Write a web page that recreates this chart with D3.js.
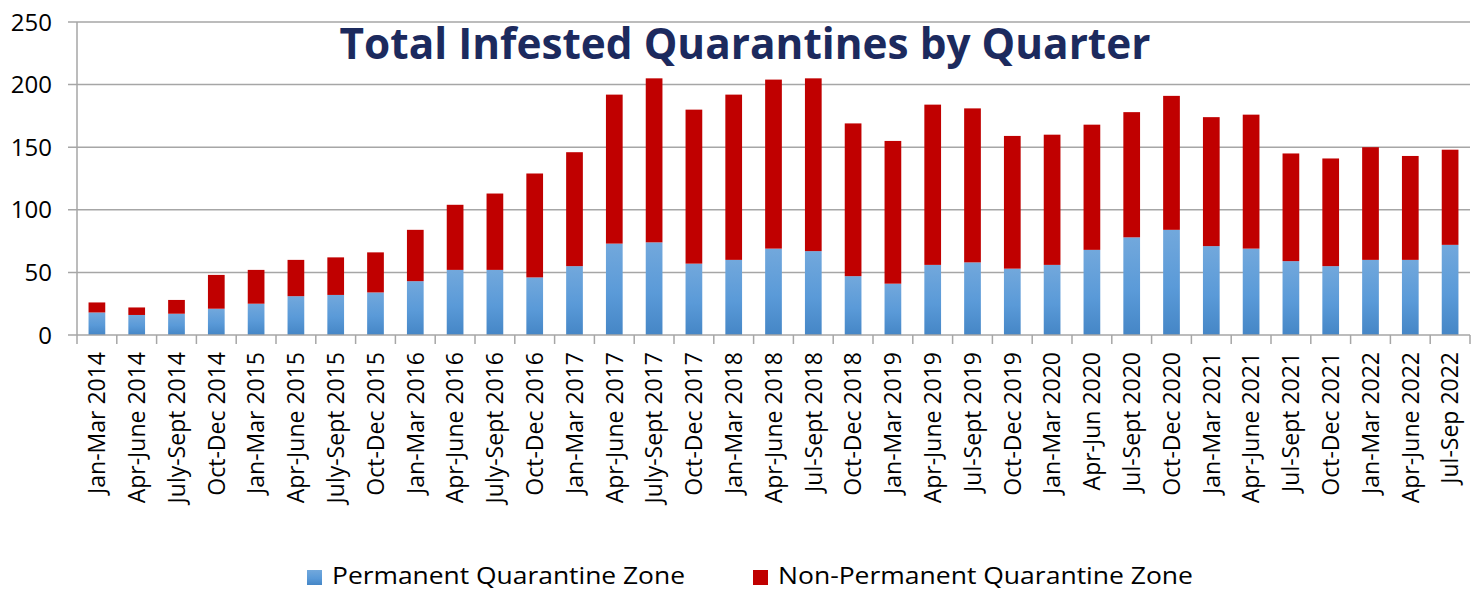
<!DOCTYPE html>
<html><head><meta charset="utf-8">
<script src="https://cdn.jsdelivr.net/npm/d3@7"></script>
<style>body{margin:0;background:#fff}svg{display:block}</style>
</head><body>
<script>
const categories = ["Jan-Mar 2014","Apr-June 2014","July-Sept 2014","Oct-Dec 2014","Jan-Mar 2015","Apr-June 2015","July-Sept 2015","Oct-Dec 2015","Jan-Mar 2016","Apr-June 2016","July-Sept 2016","Oct-Dec 2016","Jan-Mar 2017","Apr-June 2017","July-Sept 2017","Oct-Dec 2017","Jan-Mar 2018","Apr-June 2018","Jul-Sept 2018","Oct-Dec 2018","Jan-Mar 2019","Apr-June 2019","Jul-Sept 2019","Oct-Dec 2019","Jan-Mar 2020","Apr-Jun 2020","Jul-Sept 2020","Oct-Dec 2020","Jan-Mar 2021","Apr-June 2021","Jul-Sept 2021","Oct-Dec 2021","Jan-Mar 2022","Apr-June 2022","Jul-Sep 2022"];
const permanent = [18,16,17,21,25,31,32,34,43,52,52,46,55,73,74,57,60,69,67,47,41,56,58,53,56,68,78,84,71,69,59,55,60,60,72];
const totals = [26,22,28,48,52,60,62,66,84,104,113,129,146,192,205,180,192,204,205,169,155,184,181,159,160,168,178,191,174,176,145,141,150,143,148];
const nonPermanent = totals.map((t,i)=>t-permanent[i]);
const yTicks = [0,50,100,150,200,250];
const seriesNames = ["Permanent Quarantine Zone","Non-Permanent Quarantine Zone"];
const title = "Total Infested Quarantines by Quarter";

const W=1476,H=590;
const m={left:77,right:6,top:22,bottom:255};
const svg=d3.select("body").append("svg").attr("width",W).attr("height",H);
const defs=svg.append("defs");
const grad=defs.append("linearGradient").attr("id","blueGrad").attr("x1",0).attr("y1",0).attr("x2",0).attr("y2",1);
grad.append("stop").attr("offset","0%").attr("stop-color","#72a8dc");
grad.append("stop").attr("offset","55%").attr("stop-color","#5a9ad8");
grad.append("stop").attr("offset","100%").attr("stop-color","#4586c6");

const x=d3.scaleBand().domain(categories).range([m.left,W-m.right]).paddingInner(0.58).paddingOuter(0.29);
const xb=d3.scaleBand().domain(categories).range([m.left,W-m.right]);
const y=d3.scaleLinear().domain([0,250]).range([H-m.bottom,m.top]);

// gridlines
svg.append("g").selectAll("line").data(yTicks.slice(1)).join("line")
  .attr("x1",m.left-9).attr("x2",W-m.right).attr("y1",d=>y(d)).attr("y2",d=>y(d))
  .attr("stroke","#a6a6a6").attr("stroke-width",1.5);

// y labels
svg.append("g").selectAll("text").data(yTicks).join("text")
  .attr("x",52).attr("y",d=>y(d)).attr("dy","0.36em").attr("text-anchor","end")
  .attr("font-family","Open Sans").attr("font-size",24).attr("fill","#000").text(d=>d);
svg.append("line").attr("x1",m.left-9).attr("x2",m.left).attr("y1",y(0)).attr("y2",y(0)).attr("stroke","#a6a6a6").attr("stroke-width",1.5);

// bars
const g=svg.append("g");
g.selectAll("rect.p").data(categories).join("rect").attr("class","p")
  .attr("x",d=>x(d)).attr("width",x.bandwidth())
  .attr("y",(d,i)=>y(permanent[i])).attr("height",(d,i)=>y(0)-y(permanent[i]))
  .attr("fill","url(#blueGrad)");
g.selectAll("rect.n").data(categories).join("rect").attr("class","n")
  .attr("x",d=>x(d)).attr("width",x.bandwidth())
  .attr("y",(d,i)=>y(permanent[i]+nonPermanent[i])).attr("height",(d,i)=>y(permanent[i])-y(permanent[i]+nonPermanent[i]))
  .attr("fill","#c00000");

// axes lines
svg.append("line").attr("x1",m.left).attr("x2",m.left).attr("y1",y(250)).attr("y2",y(0)+9).attr("stroke","#a6a6a6").attr("stroke-width",1.5);
svg.append("line").attr("x1",m.left).attr("x2",W-m.right).attr("y1",y(0)).attr("y2",y(0)).attr("stroke","#a6a6a6").attr("stroke-width",1.5);
const bounds=categories.map(c=>xb(c)+xb.bandwidth());
svg.append("g").selectAll("line").data(bounds).join("line")
  .attr("x1",d=>d).attr("x2",d=>d).attr("y1",y(0)).attr("y2",y(0)+9)
  .attr("stroke","#a6a6a6").attr("stroke-width",1.5);

// x labels
svg.append("g").selectAll("text").data(categories).join("text")
  .attr("transform",d=>`translate(${xb(d)+xb.bandwidth()/2},${y(0)+17}) rotate(-90)`)
  .attr("dy","0.36em").attr("text-anchor","end")
  .attr("font-family","Open Sans").attr("font-size",23).attr("fill","#000").text(d=>d);

// title
svg.append("text").attr("x",745).attr("y",59).attr("text-anchor","middle")
  .attr("font-family","Open Sans").attr("font-weight","bold").attr("font-size",43)
  .attr("fill","#1c2a5e").attr("textLength",811).attr("lengthAdjust","spacingAndGlyphs").text(title);

// legend
const leg=[{name:seriesNames[0],fill:"url(#blueGrad)",sx:307,tx:332,tw:353},{name:seriesNames[1],fill:"#c00000",sx:753,tx:778,tw:415}];
const lg=svg.append("g");
lg.selectAll("rect").data(leg).join("rect").attr("x",d=>d.sx).attr("y",570).attr("width",15).attr("height",15).attr("fill",d=>d.fill);
lg.selectAll("text").data(leg).join("text").attr("x",d=>d.tx).attr("y",584)
  .attr("font-family","Open Sans").attr("font-size",23).attr("fill","#000")
  .attr("textLength",d=>d.tw).attr("lengthAdjust","spacingAndGlyphs").text(d=>d.name);
</script>
</body></html>
